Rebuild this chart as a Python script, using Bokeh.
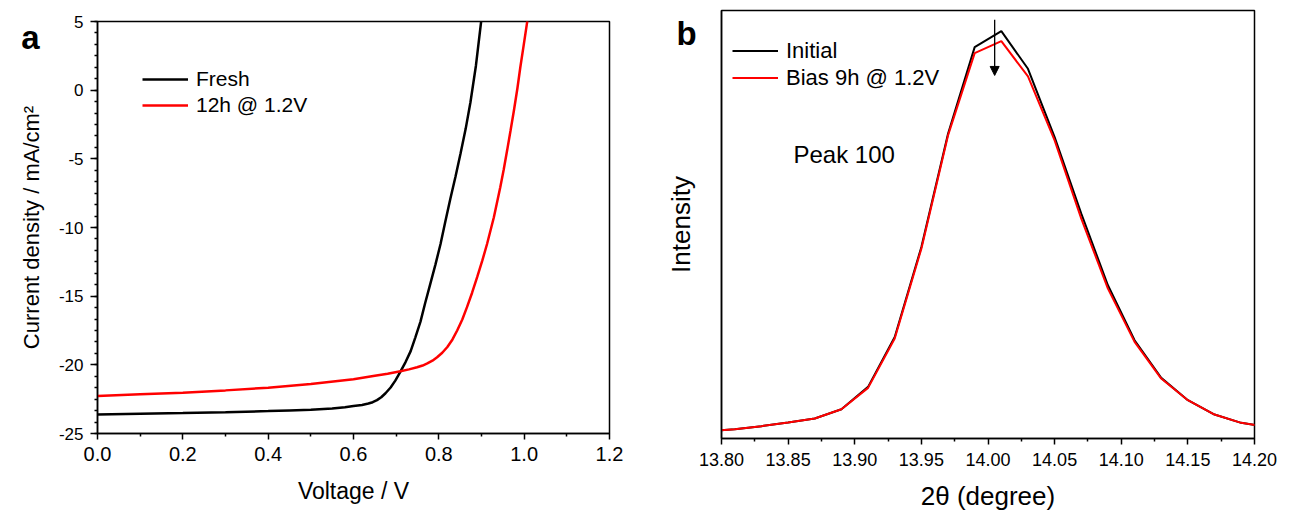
from bokeh.plotting import figure
from bokeh.models import (Range1d, Label, Arrow, NormalHead, SingleIntervalTicker,
                          FixedTicker, Legend, LegendItem, NumeralTickFormatter)
from bokeh.embed import file_html
from bokeh.resources import INLINE

# ---------------- Panel a: J-V curves ----------------
voltage_fresh = [0.0, 0.1, 0.2, 0.3, 0.4, 0.45, 0.5, 0.55, 0.58, 0.6, 0.62, 0.635, 0.645,
                 0.655, 0.665, 0.675, 0.687, 0.698, 0.71, 0.722, 0.734, 0.745, 0.757, 0.768,
                 0.78, 0.792, 0.804, 0.815, 0.827, 0.839, 0.851, 0.863, 0.874, 0.887, 0.899,
                 0.905]
j_fresh = [-23.61, -23.56, -23.51, -23.45, -23.37, -23.32, -23.27, -23.18, -23.09, -23.0,
           -22.92, -22.82, -22.72, -22.57, -22.36, -22.07, -21.65, -21.15, -20.5, -19.8,
           -19.0, -18.0, -16.85, -15.5, -14.1, -12.7, -11.2, -9.6, -7.9, -6.3, -4.6, -2.8,
           -0.9, 1.8, 4.95, 6.5]
voltage_bias = [0.0, 0.1, 0.2, 0.3, 0.4, 0.5, 0.6, 0.65, 0.68, 0.71, 0.73, 0.749, 0.762,
                0.773, 0.785, 0.796, 0.808, 0.82, 0.832, 0.843, 0.855, 0.866, 0.878, 0.89,
                0.902, 0.913, 0.929, 0.944, 0.952, 0.96, 0.968, 0.976, 0.984, 0.991, 0.999,
                1.007, 1.012]
j_bias = [-22.27, -22.15, -22.03, -21.86, -21.66, -21.4, -21.05, -20.8, -20.65, -20.47,
          -20.33, -20.18, -20.05, -19.9, -19.7, -19.45, -19.12, -18.7, -18.15, -17.5, -16.7,
          -15.8, -14.75, -13.6, -12.4, -11.2, -9.25, -7.07, -5.8, -4.4, -2.95, -1.48, 0.1,
          1.67, 3.3, 4.95, 6.0]
labels_a = ["Fresh", "12h @ 1.2V"]
ticks_a_x = [0.0, 0.2, 0.4, 0.6, 0.8, 1.0, 1.2]
minor_a_x = [0.1, 0.3, 0.5, 0.7, 0.9, 1.1]

# ---------------- Panel b: XRD (100) peak ----------------
two_theta = [13.79, 13.81, 13.83, 13.85, 13.87, 13.89, 13.91, 13.93, 13.95, 13.97, 13.99,
             14.01, 14.03, 14.05, 14.07, 14.09, 14.11, 14.13, 14.15, 14.17, 14.19, 14.21]
intensity_initial = [22, 28, 37, 48, 60, 88, 155, 305, 575, 915, 1175, 1223, 1110, 905,
                     675, 460, 295, 182, 115, 72, 47, 35]
intensity_bias = [22, 28, 37, 48, 60, 88, 152, 300, 570, 910, 1157, 1193, 1087, 895,
                  660, 450, 290, 180, 115, 72, 47, 35]
labels_b = ["Initial", "Bias 9h @ 1.2V"]
ticks_b_x = [13.80, 13.85, 13.90, 13.95, 14.00, 14.05, 14.10, 14.15, 14.20]
minor_b_x = [13.825, 13.875, 13.925, 13.975, 14.025, 14.075, 14.125, 14.175]

panel_tags = ["a", "b"]

FONT = "Liberation Sans"
RED = "#ff0000"


def style_axes(p):
    p.xgrid.visible = False
    p.ygrid.visible = False
    p.outline_line_color = "black"
    p.outline_line_width = 1.5
    p.outline_line_alpha = 1.0
    p.background_fill_color = "white"
    p.border_fill_color = "white"
    for ax in (p.xaxis[0], p.yaxis[0]):
        ax.axis_line_width = 1.5
        ax.axis_line_color = "black"
        ax.major_tick_line_width = 1.5
        ax.minor_tick_line_width = 1.5
        ax.major_tick_line_color = "black"
        ax.minor_tick_line_color = "black"
        ax.major_tick_in = 0
        ax.minor_tick_in = 0
        ax.major_tick_out = 6
        ax.minor_tick_out = 3
        ax.major_label_text_font = FONT
        ax.major_label_text_color = "black"
        ax.axis_label_text_font = FONT
        ax.axis_label_text_font_style = "normal"
        ax.axis_label_text_color = "black"


def tag_figure(text, left, top):
    """Small transparent figure carrying a bold panel letter, placed over the page."""
    t = figure(width=40, height=44, x_range=Range1d(0, 1), y_range=Range1d(0, 1),
               output_backend="svg", toolbar_location=None, title=None,
               x_axis_location=None, y_axis_location=None,
               min_border=0, min_border_left=0, min_border_right=0,
               min_border_top=0, min_border_bottom=0,
               styles={"position": "absolute", "left": f"{left}px", "top": f"{top}px"})
    t.outline_line_color = None
    t.grid.visible = False
    t.background_fill_alpha = 0
    t.border_fill_alpha = 0
    t.add_layout(Label(x=0.5, y=0.5, text=text, text_font=FONT, text_font_style="bold",
                       text_font_size="33px", text_align="center", text_baseline="middle",
                       text_color="black"))
    return t


# ---------- figure a ----------
pa = figure(width=640, height=514, x_range=Range1d(0, 1.2), y_range=Range1d(-25, 5),
            output_backend="svg", toolbar_location=None, title=None,
            min_border_left=97, min_border_right=31, min_border_top=21, min_border_bottom=81)
style_axes(pa)
pa.xaxis.ticker = FixedTicker(ticks=ticks_a_x, minor_ticks=minor_a_x)
pa.yaxis.ticker = SingleIntervalTicker(interval=5, num_minor_ticks=6)
pa.xaxis.formatter = NumeralTickFormatter(format="0.0")
pa.yaxis.formatter = NumeralTickFormatter(format="0")
pa.xaxis.major_label_text_font_size = "20px"
pa.yaxis.major_label_text_font_size = "17px"
pa.yaxis.major_tick_out = 7
pa.xaxis.major_label_standoff = 7
pa.yaxis.major_label_standoff = 7
pa.xaxis.axis_label = "Voltage / V"
pa.yaxis.axis_label = "Current density / mA/cm²"
pa.xaxis.axis_label_standoff = 14
pa.yaxis.axis_label_standoff = 12
pa.xaxis.axis_label_text_font_size = "23px"
pa.yaxis.axis_label_text_font_size = "22px"

ra1 = pa.line(voltage_fresh, j_fresh, line_color="black", line_width=2.5)
ra2 = pa.line(voltage_bias, j_bias, line_color=RED, line_width=2.5)
leg_a = Legend(items=[LegendItem(label=labels_a[0], renderers=[ra1]),
                     LegendItem(label=labels_a[1], renderers=[ra2])],
               location=(45, 315), glyph_width=46, glyph_height=26, label_height=26,
               spacing=0, padding=0, margin=0, label_standoff=8,
               label_text_font=FONT, label_text_font_size="21px", label_text_color="black",
               border_line_alpha=0, background_fill_alpha=0)
pa.add_layout(leg_a)

# ---------- figure b ----------
pb = figure(width=649, height=514, x_range=Range1d(13.80, 14.20), y_range=Range1d(0, 1285),
            output_backend="svg", toolbar_location=None, title=None,
            min_border_left=81, min_border_right=35, min_border_top=10, min_border_bottom=76)
style_axes(pb)
pb.xaxis.ticker = FixedTicker(ticks=ticks_b_x, minor_ticks=minor_b_x)
pb.xaxis.formatter = NumeralTickFormatter(format="0.00")
pb.xaxis.major_label_text_font_size = "18px"
pb.xaxis.major_label_standoff = 8
pb.yaxis.ticker = FixedTicker(ticks=[])
pb.yaxis.minor_tick_out = 0
pb.xaxis.axis_label = "2θ (degree)"
pb.yaxis.axis_label = "Intensity"
pb.xaxis.axis_label_standoff = 12
pb.yaxis.axis_label_standoff = 26
pb.xaxis.axis_label_text_font_size = "26px"
pb.yaxis.axis_label_text_font_size = "26px"

rb1 = pb.line(two_theta, intensity_initial, line_color="black", line_width=2)
rb2 = pb.line(two_theta, intensity_bias, line_color=RED, line_width=2)
leg_b = Legend(items=[LegendItem(label=labels_b[0], renderers=[rb1]),
                     LegendItem(label=labels_b[1], renderers=[rb2])],
               location=(11, 347), glyph_width=46, glyph_height=27, label_height=27,
               spacing=0, padding=0, margin=0, label_standoff=8,
               label_text_font=FONT, label_text_font_size="22px", label_text_color="black",
               border_line_alpha=0, background_fill_alpha=0)
pb.add_layout(leg_b)

PEAK_NOTE = dict(x=13.854, y=854)
pb.add_layout(Label(x=PEAK_NOTE["x"], y=PEAK_NOTE["y"], text="Peak 100", text_font=FONT,
                    text_font_size="24px", text_baseline="alphabetic", text_color="black"))
ARROW_B = dict(x=14.005, y_start=1257, y_end=1090)
pb.add_layout(Arrow(end=NormalHead(size=9, fill_color="black", line_color="black"),
                    x_start=ARROW_B["x"], y_start=ARROW_B["y_start"],
                    x_end=ARROW_B["x"], y_end=ARROW_B["y_end"],
                    line_color="black", line_width=1.3))

tag_a = tag_figure(panel_tags[0], 10, 15)
tag_b = tag_figure(panel_tags[1], 666, 11)

# Independent roots side by side (no frame alignment between the panels);
# panel letters are small overlays.
html = file_html([pa, pb, tag_a, tag_b], INLINE)
html = html.replace("</head>",
                    "<style>html,body{margin:0;padding:0;}body{display:flex;"
                    "flex-direction:row;align-items:flex-start;position:relative;}</style></head>", 1)
open("out.html", "w").write(html)
